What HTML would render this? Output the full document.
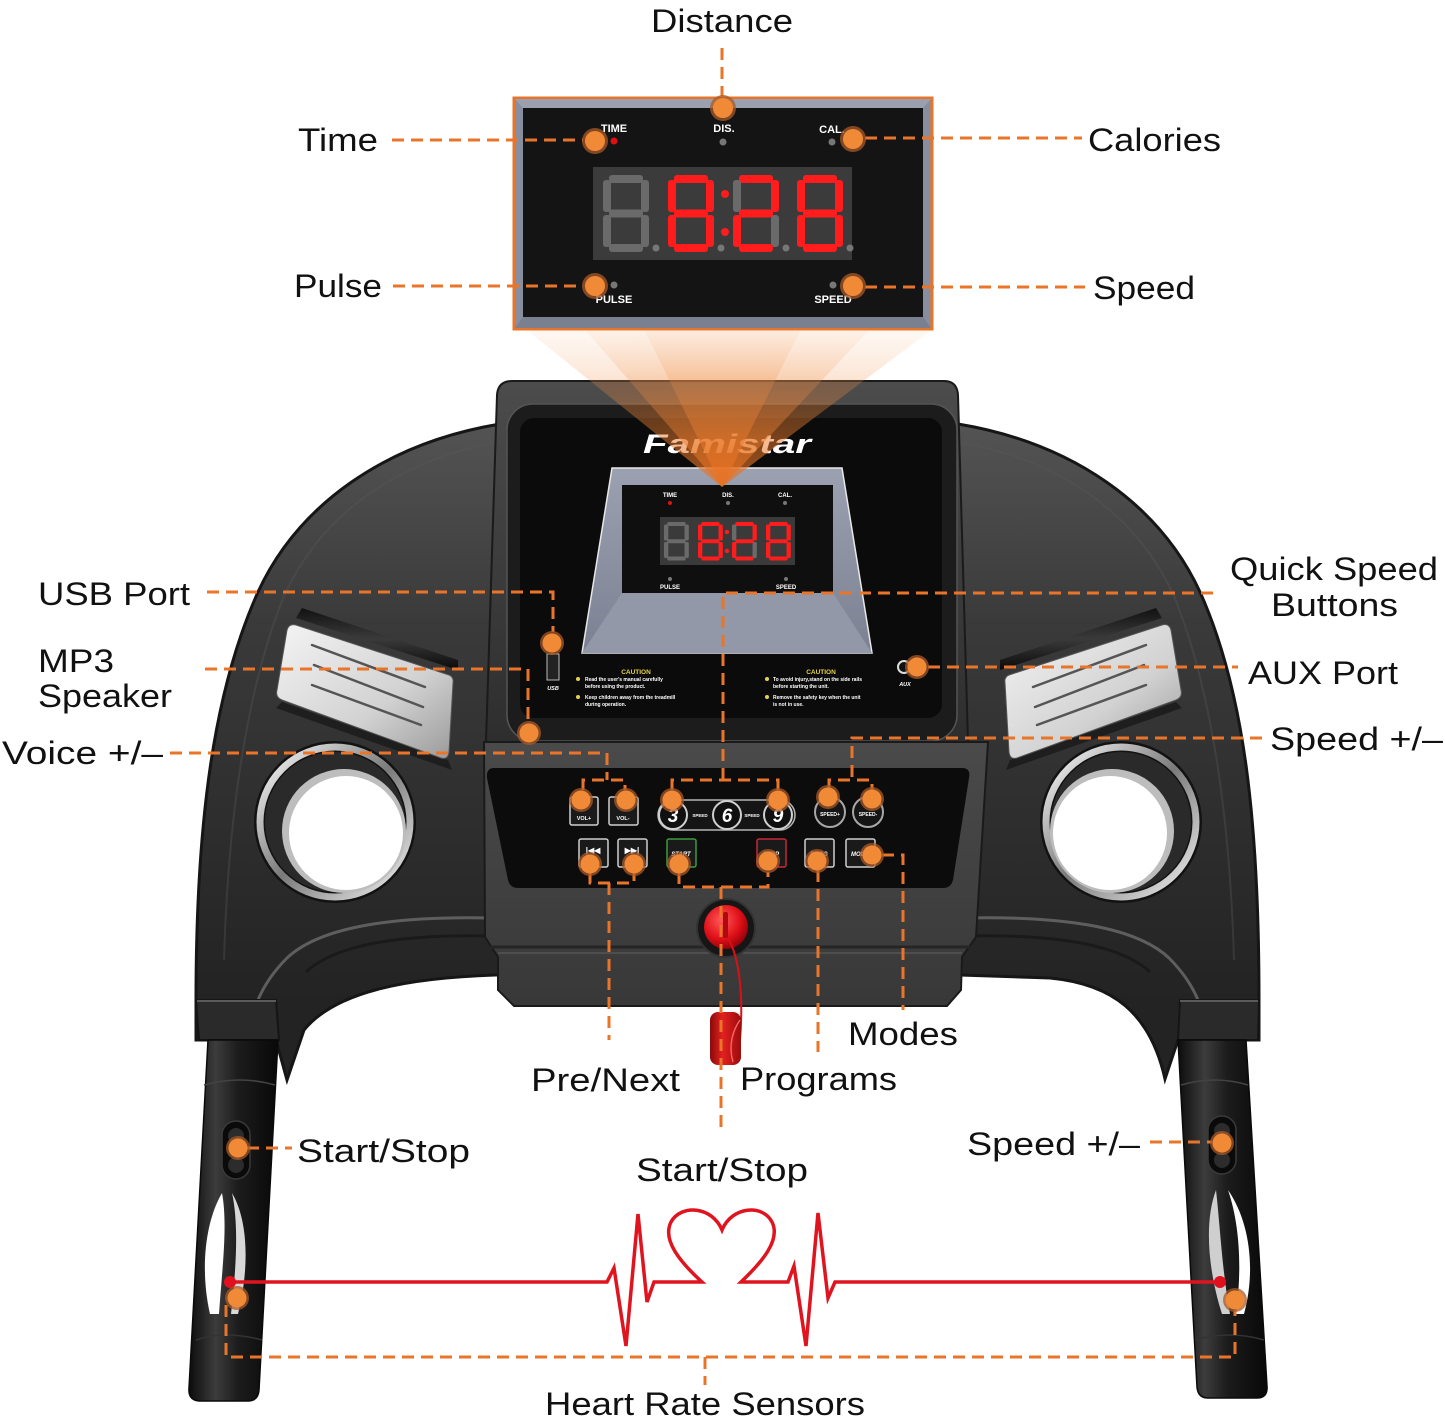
<!DOCTYPE html>
<html><head><meta charset="utf-8">
<style>
html,body{margin:0;padding:0;background:#fff}
svg{display:block}
text{font-family:"Liberation Sans",Arial,sans-serif}
.lbl{font-size:32px;fill:#111}
.d{fill:none;stroke:#e9752a;stroke-width:3;stroke-dasharray:12 7}
.on{fill:#ff1c1c}.off{fill:#6a6a6a}
.oh{fill:#a85a28;fill-opacity:.75}.oc{fill:#f18a36}
.wt{fill:#fff;font-weight:bold}
</style></head><body>
<svg width="1445" height="1420" viewBox="0 0 1445 1420" xmlns="http://www.w3.org/2000/svg">
<defs>
<linearGradient id="wg" x1="0" y1="420" x2="0" y2="1000" gradientUnits="userSpaceOnUse"><stop offset="0" stop-color="#545454"/><stop offset="0.35" stop-color="#3a3a3a"/><stop offset="1" stop-color="#232323"/></linearGradient>
<linearGradient id="ug" x1="0" y1="380" x2="0" y2="740" gradientUnits="userSpaceOnUse"><stop offset="0" stop-color="#4c4c4c"/><stop offset="1" stop-color="#2e2e2e"/></linearGradient>
<linearGradient id="bgr" x1="0" y1="742" x2="0" y2="1006" gradientUnits="userSpaceOnUse"><stop offset="0" stop-color="#4a4a4a"/><stop offset="1" stop-color="#383838"/></linearGradient>
<linearGradient id="hg" x1="0" y1="0" x2="1" y2="0"><stop offset="0" stop-color="#0c0c0c"/><stop offset="0.3" stop-color="#3c3c3c"/><stop offset="0.55" stop-color="#1c1c1c"/><stop offset="1" stop-color="#080808"/></linearGradient>
<linearGradient id="pg" x1="0" y1="0" x2="1" y2="1"><stop offset="0" stop-color="#f4f4f4"/><stop offset="0.6" stop-color="#d2d2d2"/><stop offset="1" stop-color="#9a9a9a"/></linearGradient>
<linearGradient id="sg" x1="0" y1="0" x2="0" y2="1"><stop offset="0" stop-color="#111"/><stop offset="0.5" stop-color="#3a3a3a"/><stop offset="1" stop-color="#0a0a0a"/></linearGradient>
<linearGradient id="cr" x1="0" y1="0" x2="1" y2="1"><stop offset="0" stop-color="#ffffff"/><stop offset="0.5" stop-color="#7a7a7a"/><stop offset="1" stop-color="#f4f4f4"/></linearGradient>
<linearGradient id="b1" x1="0" y1="331" x2="0" y2="487" gradientUnits="userSpaceOnUse"><stop offset="0" stop-color="#f4a66c" stop-opacity="0.08"/><stop offset="0.25" stop-color="#f0934e" stop-opacity="0.2"/><stop offset="0.7" stop-color="#ea7a2c" stop-opacity="0.5"/><stop offset="1" stop-color="#e8701e" stop-opacity="0.7"/></linearGradient>
<radialGradient id="rk" cx="0.4" cy="0.35" r="0.7"><stop offset="0" stop-color="#ff5a5a"/><stop offset="0.6" stop-color="#e01018"/><stop offset="1" stop-color="#8a0008"/></radialGradient>
<linearGradient id="clip" x1="0" y1="0" x2="1" y2="0"><stop offset="0" stop-color="#8a0a0a"/><stop offset="0.4" stop-color="#e42020"/><stop offset="1" stop-color="#9a0c0c"/></linearGradient>
<linearGradient id="scr" x1="0" y1="0" x2="0" y2="1"><stop offset="0" stop-color="#9ba1b0"/><stop offset="1" stop-color="#7b8192"/></linearGradient>
</defs>

<!-- ===== WINGS ===== -->
<path d="M 276,1040 L 196,1040 L 196,1000 C 196,820 214,690 258,592 C 298,505 385,443 500,424 L 958,424 C 1073,443 1160,505 1200,592 C 1244,690 1259,820 1259,1000 L 1259,1040 L 1178,1040 L 1165,1079 C 1150,1012 1112,984 1050,978 L 960,975 L 495,975 C 405,978 335,992 304,1030 L 287,1080 Z" fill="url(#wg)" stroke="#161616" stroke-width="3"/>
<path d="M 498,442 C 400,460 322,512 284,596 C 246,690 228,820 224,960" fill="none" stroke="#5a5a5a" stroke-opacity="0.35" stroke-width="2"/>
<path d="M 960,442 C 1058,460 1136,512 1174,596 C 1212,690 1230,820 1234,960" fill="none" stroke="#5a5a5a" stroke-opacity="0.35" stroke-width="2"/>
<!-- ledges -->
<path d="M 492,918 C 400,916 322,925 287,958 C 272,973 263,988 258,1000" fill="none" stroke="#5e5e5e" stroke-width="3"/>
<path d="M 492,936 C 404,934 336,944 306,972" fill="none" stroke="#1a1a1a" stroke-width="3"/>
<path d="M 964,918 C 1056,916 1134,925 1169,958 C 1184,973 1193,988 1198,1000" fill="none" stroke="#5e5e5e" stroke-width="3"/>
<path d="M 964,936 C 1052,934 1120,944 1150,972" fill="none" stroke="#1a1a1a" stroke-width="3"/>

<!-- collars -->
<polygon points="196,1000 276,1000 279,1040 199,1040" fill="#2a2a2a" stroke="#151515" stroke-width="2"/>
<line x1="197" y1="1001" x2="276" y2="1001" stroke="#5a5a5a" stroke-width="2"/>
<polygon points="1180,1000 1259,1000 1258,1040 1178,1040" fill="#2a2a2a" stroke="#151515" stroke-width="2"/>
<line x1="1180" y1="1001" x2="1258" y2="1001" stroke="#5a5a5a" stroke-width="2"/>

<!-- speaker plates -->
<polygon points="302,608 458,660 458,670 296,618" fill="url(#sg)"/>
<polygon points="282,702 448,760 452,770 276,708" fill="#151515" opacity="0.7"/>
<path d="M 296,625 L 449,675 Q 454,677 453,683 L 449,752 Q 448,760 441,758 L 282,700 Q 275,697 277,690 L 287,630 Q 289,623 296,625 Z" fill="url(#pg)" stroke="#555" stroke-width="1"/>
<line x1="312" y1="645" x2="425" y2="687" stroke="#555" stroke-width="2.5" stroke-linecap="round"/>
<line x1="314" y1="665" x2="423" y2="707" stroke="#555" stroke-width="2.5" stroke-linecap="round"/>
<line x1="312" y1="685" x2="421" y2="725" stroke="#555" stroke-width="2.5" stroke-linecap="round"/>
<polygon points="1156,608 1000,660 1000,670 1162,618" fill="url(#sg)"/>
<polygon points="1176,702 1010,760 1006,770 1182,708" fill="#151515" opacity="0.7"/>
<path d="M 1162,625 L 1009,675 Q 1004,677 1005,683 L 1009,752 Q 1010,760 1017,758 L 1176,700 Q 1183,697 1181,690 L 1171,630 Q 1169,623 1162,625 Z" fill="url(#pg)" stroke="#555" stroke-width="1"/>
<line x1="1146" y1="645" x2="1033" y2="687" stroke="#555" stroke-width="2.5" stroke-linecap="round"/>
<line x1="1144" y1="665" x2="1035" y2="707" stroke="#555" stroke-width="2.5" stroke-linecap="round"/>
<line x1="1146" y1="685" x2="1037" y2="725" stroke="#555" stroke-width="2.5" stroke-linecap="round"/>

<!-- cup holders -->
<circle cx="335" cy="822" r="81" fill="#121212"/>
<circle cx="335" cy="822" r="75" fill="none" stroke="url(#cr)" stroke-width="7"/>
<circle cx="335" cy="822" r="70" fill="#2a2a2a"/>
<circle cx="344" cy="831" r="62" fill="#bdbdbd"/>
<circle cx="346" cy="833" r="57" fill="#fff"/>
<circle cx="1121" cy="822" r="81" fill="#121212"/>
<circle cx="1121" cy="822" r="75" fill="none" stroke="url(#cr)" stroke-width="7"/>
<circle cx="1121" cy="822" r="70" fill="#2a2a2a"/>
<circle cx="1112" cy="831" r="62" fill="#bdbdbd"/>
<circle cx="1110" cy="833" r="57" fill="#fff"/>

<!-- ===== CONSOLE UPRIGHT ===== -->
<path d="M 512,381 L 944,381 Q 957,381 958,395 L 968,742 L 486,742 L 497,395 Q 498,381 512,381 Z" fill="url(#ug)" stroke="#1a1a1a" stroke-width="2"/>
<rect x="507" y="404" width="450" height="337" rx="26" fill="#1c1c1c" stroke="#555" stroke-width="1.5"/>
<rect x="520" y="418" width="422" height="300" rx="14" fill="#0b0b0b"/>

<!-- lower body -->
<path d="M 484,742 L 988,742 L 976,937 L 962,957 L 961,990 L 947,1006 L 514,1006 L 498,990 L 498,957 L 485,937 Z" fill="url(#bgr)" stroke="#1a1a1a" stroke-width="2"/>
<line x1="488" y1="947" x2="970" y2="947" stroke="#252525" stroke-width="3"/>
<line x1="498" y1="953" x2="962" y2="953" stroke="#555" stroke-width="1.5"/>
<path d="M 494,768 L 962,768 Q 971,768 969,778 L 953,880 Q 951,888 943,888 L 518,888 Q 510,888 508,880 L 487,778 Q 486,768 494,768 Z" fill="#0c0c0c"/>

<!-- Famistar logo -->
<text x="727" y="453" text-anchor="middle" font-size="27" font-weight="bold" font-style="italic" fill="#fff" textLength="168" lengthAdjust="spacingAndGlyphs">Famistar</text>

<!-- console display -->
<polygon points="612,468 842,468 872,653 582,653" fill="url(#scr)" stroke="#e8e8e8" stroke-width="1.5"/>
<polygon points="622,593 833,593 872,653 582,653" fill="#9298a8"/>
<rect x="622" y="485" width="211" height="108" fill="#0f0f0f"/>
<rect x="660" y="517" width="135" height="48" fill="#3a3a3a"/>
<g font-size="6" text-anchor="middle">
<text x="670" y="497" class="wt">TIME</text><text x="728" y="497" class="wt">DIS.</text><text x="785" y="497" class="wt">CAL.</text>
<text x="670" y="589" class="wt">PULSE</text><text x="786" y="589" class="wt">SPEED</text>
</g>
<circle cx="670" cy="503" r="2" fill="#e01010"/><circle cx="728" cy="503" r="2" fill="#777"/><circle cx="785" cy="503" r="2" fill="#777"/>
<circle cx="670" cy="579" r="2" fill="#777"/><circle cx="786" cy="579" r="2" fill="#777"/>
<!-- small digits -->
<g transform="translate(664,522) scale(0.54,0.5)">
<rect class="off" x="6" y="0" width="34" height="8" rx="3"/><rect class="off" x="38" y="5" width="8" height="32" rx="3"/><rect class="off" x="38" y="40" width="8" height="32" rx="3"/><rect class="off" x="6" y="69" width="34" height="8" rx="3"/><rect class="off" x="0" y="40" width="8" height="32" rx="3"/><rect class="off" x="0" y="5" width="8" height="32" rx="3"/><rect class="off" x="6" y="34.5" width="34" height="8" rx="3"/>
</g>
<g transform="translate(698,522) scale(0.54,0.5)">
<rect class="on" x="6" y="0" width="34" height="8" rx="3"/><rect class="on" x="38" y="5" width="8" height="32" rx="3"/><rect class="on" x="38" y="40" width="8" height="32" rx="3"/><rect class="on" x="6" y="69" width="34" height="8" rx="3"/><rect class="on" x="0" y="40" width="8" height="32" rx="3"/><rect class="on" x="0" y="5" width="8" height="32" rx="3"/><rect class="on" x="6" y="34.5" width="34" height="8" rx="3"/>
</g>
<g transform="translate(732,522) scale(0.54,0.5)">
<rect class="on" x="6" y="0" width="34" height="8" rx="3"/><rect class="on" x="38" y="5" width="8" height="32" rx="3"/><rect class="off" x="38" y="40" width="8" height="32" rx="3"/><rect class="on" x="6" y="69" width="34" height="8" rx="3"/><rect class="on" x="0" y="40" width="8" height="32" rx="3"/><rect class="off" x="0" y="5" width="8" height="32" rx="3"/><rect class="on" x="6" y="34.5" width="34" height="8" rx="3"/>
</g>
<g transform="translate(766,522) scale(0.54,0.5)">
<rect class="on" x="6" y="0" width="34" height="8" rx="3"/><rect class="on" x="38" y="5" width="8" height="32" rx="3"/><rect class="on" x="38" y="40" width="8" height="32" rx="3"/><rect class="on" x="6" y="69" width="34" height="8" rx="3"/><rect class="on" x="0" y="40" width="8" height="32" rx="3"/><rect class="on" x="0" y="5" width="8" height="32" rx="3"/><rect class="on" x="6" y="34.5" width="34" height="8" rx="3"/>
</g>
<circle cx="727" cy="532" r="2.2" fill="#ff1c1c"/><circle cx="727" cy="551" r="2.2" fill="#ff1c1c"/>

<!-- USB / caution / AUX -->
<rect x="547" y="654" width="12" height="26" fill="#222" stroke="#bbb" stroke-width="1"/>
<text x="553" y="690" font-size="5.5" font-weight="bold" font-style="italic" fill="#fff" text-anchor="middle">USB</text>
<g fill="#fff" font-size="5" font-weight="bold">
<text x="636" y="674" fill="#e6d24a" font-size="6.5" text-anchor="middle">CAUTION</text>
<text x="585" y="681">Read the user's manual carefully</text>
<text x="585" y="688">before using the product.</text>
<text x="585" y="699">Keep children away from the treadmill</text>
<text x="585" y="706">during operation.</text>
<text x="821" y="674" fill="#e6d24a" font-size="6.5" text-anchor="middle">CAUTION</text>
<text x="773" y="681">To avoid injury,stand on the side rails</text>
<text x="773" y="688">before starting the unit.</text>
<text x="773" y="699">Remove the safety key when the unit</text>
<text x="773" y="706">is not in use.</text>
</g>
<circle cx="578" cy="679" r="2" fill="#e6d24a"/><circle cx="578" cy="697" r="2" fill="#e6d24a"/>
<circle cx="767" cy="679" r="2" fill="#e6d24a"/><circle cx="767" cy="697" r="2" fill="#e6d24a"/>
<circle cx="904" cy="667" r="6" fill="#111" stroke="#ddd" stroke-width="2"/>
<text x="905" y="686" font-size="5.5" font-weight="bold" font-style="italic" fill="#fff" text-anchor="middle">AUX</text>

<!-- buttons -->
<g fill="#1a1a1a" stroke="#cfcfcf" stroke-width="1.5">
<rect x="570" y="797" width="28" height="28" rx="2"/>
<rect x="609" y="797" width="29" height="28" rx="2"/>
<rect x="579" y="839" width="29" height="28" rx="2"/>
<rect x="618" y="839" width="29" height="28" rx="2"/>
<rect x="667" y="839" width="29" height="28" rx="2" stroke="#3c9a3c"/>
<rect x="757" y="839" width="29" height="28" rx="2" stroke="#c8283a"/>
<rect x="805" y="839" width="29" height="28" rx="2"/>
<rect x="846" y="839" width="29" height="28" rx="2"/>
<rect x="658" y="800" width="137" height="30" rx="15" fill="#151515" stroke="#b5b5b5"/>
<circle cx="673" cy="815" r="14" fill="#101010" stroke="#d0d0d0" stroke-width="2"/>
<circle cx="727" cy="815" r="14" fill="#101010" stroke="#d0d0d0" stroke-width="2"/>
<circle cx="778" cy="815" r="14" fill="#101010" stroke="#d0d0d0" stroke-width="2"/>
<circle cx="830" cy="812" r="15" fill="#151515" stroke="#a8a8a8" stroke-width="2"/>
<circle cx="868" cy="812" r="15" fill="#151515" stroke="#a8a8a8" stroke-width="2"/>
</g>
<g fill="#fff" font-weight="bold" text-anchor="middle">
<text x="673" y="822" font-size="19" font-style="italic">3</text>
<text x="727" y="822" font-size="19" font-style="italic">6</text>
<text x="778" y="822" font-size="19" font-style="italic">9</text>
<text x="700" y="817" font-size="4.5">SPEED</text>
<text x="752" y="817" font-size="4.5">SPEED</text>
<text x="584" y="820" font-size="5.5">VOL+</text>
<text x="623" y="820" font-size="5.5">VOL-</text>
<text x="830" y="816" font-size="5">SPEED+</text>
<text x="868" y="816" font-size="5">SPEED-</text>
<text x="593" y="853" font-size="8">|◀◀</text>
<text x="632" y="853" font-size="8">▶▶|</text>
<text x="681" y="856" font-size="6" font-style="italic">START</text>
<text x="771" y="856" font-size="6" font-style="italic">STOP</text>
<text x="819" y="856" font-size="6" font-style="italic">PROG</text>
<text x="858" y="856" font-size="6" font-style="italic">MOD</text>
</g>

<!-- safety key -->
<circle cx="726" cy="928" r="29" fill="#161616" stroke="#333" stroke-width="2"/>
<circle cx="726" cy="927" r="22" fill="url(#rk)"/>
<rect x="723" y="912" width="5" height="26" rx="2" fill="#b00810"/>
<path d="M 728,938 C 738,955 744,990 740,1040" fill="none" stroke="#d81018" stroke-width="2"/>
<rect x="710" y="1012" width="31" height="53" rx="8" fill="url(#clip)"/>
<path d="M 740,1020 C 733,1030 728,1045 733,1062" fill="none" stroke="#ff6060" stroke-width="1.5"/>

<!-- ===== HANDLES ===== -->
<path d="M 208,1040 L 278,1040 L 259,1390 Q 258,1401 248,1401 L 199,1401 Q 188,1400 189,1388 Z" fill="url(#hg)" stroke="#0a0a0a" stroke-width="1.5"/>
<path d="M 1178,1040 L 1246,1040 L 1267,1386 Q 1268,1398 1257,1398 L 1208,1398 Q 1198,1398 1197,1387 Z" fill="url(#hg)" stroke="#0a0a0a" stroke-width="1.5"/>
<path d="M 204,1085 Q 240,1075 275,1085" fill="none" stroke="#444" stroke-width="1.5"/>
<path d="M 1181,1085 Q 1215,1075 1248,1085" fill="none" stroke="#444" stroke-width="1.5"/>
<path d="M 196,1340 Q 225,1330 262,1340" fill="none" stroke="#333" stroke-width="1.5"/>
<path d="M 1195,1340 Q 1230,1330 1264,1340" fill="none" stroke="#333" stroke-width="1.5"/>
<!-- slots -->
<rect x="222" y="1121" width="28" height="58" rx="14" fill="#0a0a0a" stroke="#3a3a3a" stroke-width="1.5"/>
<circle cx="236" cy="1136" r="8" fill="#2c2c2c"/><circle cx="236" cy="1165" r="8" fill="#2c2c2c"/>
<rect x="1208" y="1116" width="28" height="58" rx="14" fill="#0a0a0a" stroke="#3a3a3a" stroke-width="1.5"/>
<circle cx="1222" cy="1131" r="8" fill="#2c2c2c"/><circle cx="1222" cy="1160" r="8" fill="#2c2c2c"/>
<!-- chrome sensors -->
<path d="M 222,1193 C 205,1222 200,1270 210,1314 L 219,1314 C 222,1270 228,1225 222,1193 Z" fill="#fff"/>
<path d="M 232,1193 C 249,1222 249,1270 238,1314 L 231,1314 C 236,1270 239,1225 232,1193 Z" fill="#d8d8d8"/>
<path d="M 1216,1190 C 1204,1222 1208,1270 1222,1314 L 1230,1314 C 1222,1270 1220,1225 1216,1190 Z" fill="#cfcfcf"/>
<path d="M 1228,1190 C 1250,1222 1256,1270 1244,1314 L 1236,1314 C 1242,1270 1240,1225 1228,1190 Z" fill="#fff"/>

<!-- ===== TOP DISPLAY ===== -->
<rect x="514" y="98" width="418" height="231" fill="#888e9d" stroke="#e8742a" stroke-width="3"/>
<polygon points="515,99 931,99 923,108 523,108" fill="#9aa0ae"/>
<polygon points="515,328 931,328 923,317 523,317" fill="#7a8090"/>
<rect x="523" y="108" width="400" height="209" fill="#141414"/>
<rect x="593" y="167" width="259" height="93" fill="#3b3b3b"/>
<g transform="translate(603,175)">
<rect class="off" x="6" y="0" width="34" height="8" rx="3"/><rect class="off" x="38" y="5" width="8" height="32" rx="3"/><rect class="off" x="38" y="40" width="8" height="32" rx="3"/><rect class="off" x="6" y="69" width="34" height="8" rx="3"/><rect class="off" x="0" y="40" width="8" height="32" rx="3"/><rect class="off" x="0" y="5" width="8" height="32" rx="3"/><rect class="off" x="6" y="34.5" width="34" height="8" rx="3"/><circle cx="53" cy="73" r="3.5" fill="#777"/>
</g>
<g transform="translate(668,175)">
<rect class="on" x="6" y="0" width="34" height="8" rx="3"/><rect class="on" x="38" y="5" width="8" height="32" rx="3"/><rect class="on" x="38" y="40" width="8" height="32" rx="3"/><rect class="on" x="6" y="69" width="34" height="8" rx="3"/><rect class="on" x="0" y="40" width="8" height="32" rx="3"/><rect class="on" x="0" y="5" width="8" height="32" rx="3"/><rect class="on" x="6" y="34.5" width="34" height="8" rx="3"/><circle cx="53" cy="73" r="3.5" fill="#777"/>
</g>
<g transform="translate(733,175)">
<rect class="on" x="6" y="0" width="34" height="8" rx="3"/><rect class="on" x="38" y="5" width="8" height="32" rx="3"/><rect class="off" x="38" y="40" width="8" height="32" rx="3"/><rect class="on" x="6" y="69" width="34" height="8" rx="3"/><rect class="on" x="0" y="40" width="8" height="32" rx="3"/><rect class="off" x="0" y="5" width="8" height="32" rx="3"/><rect class="on" x="6" y="34.5" width="34" height="8" rx="3"/><circle cx="53" cy="73" r="3.5" fill="#777"/>
</g>
<g transform="translate(797,175)">
<rect class="on" x="6" y="0" width="34" height="8" rx="3"/><rect class="on" x="38" y="5" width="8" height="32" rx="3"/><rect class="on" x="38" y="40" width="8" height="32" rx="3"/><rect class="on" x="6" y="69" width="34" height="8" rx="3"/><rect class="on" x="0" y="40" width="8" height="32" rx="3"/><rect class="on" x="0" y="5" width="8" height="32" rx="3"/><rect class="on" x="6" y="34.5" width="34" height="8" rx="3"/><circle cx="53" cy="73" r="3.5" fill="#777"/>
</g>
<circle cx="725" cy="194" r="4" fill="#ff1c1c"/><circle cx="725" cy="232" r="4" fill="#ff1c1c"/>
<g font-size="11" text-anchor="middle">
<text x="614" y="132" class="wt">TIME</text>
<text x="724" y="132" class="wt">DIS.</text>
<text x="832" y="133" class="wt">CAL.</text>
<text x="614" y="303" class="wt">PULSE</text>
<text x="833" y="303" class="wt">SPEED</text>
</g>
<circle cx="614" cy="141" r="3.5" fill="#e01010"/>
<circle cx="723" cy="142" r="3.5" fill="#777"/>
<circle cx="832" cy="142" r="3.5" fill="#777"/>
<circle cx="614" cy="285" r="3.5" fill="#777"/>
<circle cx="833" cy="285" r="3.5" fill="#777"/>

<!-- ===== LIGHT BEAM ===== -->
<polygon points="528,331 930,331 722,487" fill="url(#b1)"/>
<polygon points="586,331 868,331 722,487" fill="url(#b1)"/>
<polygon points="645,331 800,331 722,487" fill="url(#b1)"/>

<!-- ===== ECG ===== -->
<path d="M 230,1282 L 607,1282 L 614,1268 L 626,1346 L 638,1214 L 647,1302 L 654,1282 L 702,1282 C 680,1262 662,1240 671,1222 C 681,1204 712,1206 722,1230 C 732,1206 763,1204 772,1222 C 781,1240 762,1262 741,1282 L 788,1282 L 794,1266 L 806,1346 L 818,1213 L 828,1298 L 835,1282 L 1220,1282" fill="none" stroke="#e0141e" stroke-width="3.5" stroke-linejoin="miter"/>
<circle cx="230" cy="1282" r="6" fill="#e0101e"/>
<circle cx="1220" cy="1282" r="6" fill="#e0101e"/>

<!-- ===== DASHED CONNECTORS ===== -->
<path class="d" d="M 722,48 L 722,96"/>
<path class="d" d="M 392,140 L 583,140"/>
<path class="d" d="M 865,138 L 1082,138"/>
<path class="d" d="M 393,286 L 583,286"/>
<path class="d" d="M 865,287 L 1085,287"/>
<path class="d" d="M 207,592 L 553,592 L 553,632"/>
<path class="d" d="M 205,669 L 528,669 L 528,722"/>
<path class="d" d="M 170,753 L 607,753 L 607,780"/>
<path class="d" d="M 583,790 L 583,780 L 625,780 L 625,790"/>
<path class="d" d="M 1213,593 L 723,593 L 723,780"/>
<path class="d" d="M 672,790 L 672,780 L 778,780 L 778,790"/>
<path class="d" d="M 928,667 L 1238,667"/>
<path class="d" d="M 1262,738 L 852,738 L 852,780"/>
<path class="d" d="M 829,790 L 829,780 L 872,780 L 872,790"/>
<path class="d" d="M 590,872 L 590,883 L 634,883 L 634,872"/>
<path class="d" d="M 609,883 L 609,1040"/>
<path class="d" d="M 679,872 L 679,887 L 768,887 L 768,872"/>
<path class="d" d="M 721,887 L 721,1132"/>
<path class="d" d="M 818,870 L 818,1052"/>
<path class="d" d="M 882,855 L 903,855 L 903,1010"/>
<path class="d" d="M 247,1148 L 292,1148"/>
<path class="d" d="M 1150,1142 L 1212,1142"/>
<path class="d" d="M 226,1305 L 226,1357 L 1235,1357 L 1235,1310"/>
<path class="d" d="M 705,1357 L 705,1385"/>

<!-- ===== ORANGE DOTS ===== -->
<g>
<circle class="oh" cx="595" cy="141" r="13"/><circle class="oc" cx="595" cy="141" r="10"/>
<circle class="oh" cx="723" cy="108" r="13"/><circle class="oc" cx="723" cy="108" r="10"/>
<circle class="oh" cx="853" cy="139" r="13"/><circle class="oc" cx="853" cy="139" r="10"/>
<circle class="oh" cx="595" cy="286" r="13"/><circle class="oc" cx="595" cy="286" r="10"/>
<circle class="oh" cx="853" cy="286" r="13"/><circle class="oc" cx="853" cy="286" r="10"/>
<circle class="oh" cx="552" cy="643" r="12"/><circle class="oc" cx="552" cy="643" r="9.5"/>
<circle class="oh" cx="529" cy="733" r="12"/><circle class="oc" cx="529" cy="733" r="9.5"/>
<circle class="oh" cx="917" cy="667" r="12"/><circle class="oc" cx="917" cy="667" r="9.5"/>
<circle class="oh" cx="581" cy="800" r="12"/><circle class="oc" cx="581" cy="800" r="9.5"/>
<circle class="oh" cx="626" cy="800" r="12"/><circle class="oc" cx="626" cy="800" r="9.5"/>
<circle class="oh" cx="672" cy="800" r="12"/><circle class="oc" cx="672" cy="800" r="9.5"/>
<circle class="oh" cx="778" cy="800" r="12"/><circle class="oc" cx="778" cy="800" r="9.5"/>
<circle class="oh" cx="828" cy="797" r="12"/><circle class="oc" cx="828" cy="797" r="9.5"/>
<circle class="oh" cx="872" cy="799" r="12"/><circle class="oc" cx="872" cy="799" r="9.5"/>
<circle class="oh" cx="590" cy="864" r="12"/><circle class="oc" cx="590" cy="864" r="9.5"/>
<circle class="oh" cx="634" cy="864" r="12"/><circle class="oc" cx="634" cy="864" r="9.5"/>
<circle class="oh" cx="679" cy="864" r="12"/><circle class="oc" cx="679" cy="864" r="9.5"/>
<circle class="oh" cx="768" cy="861" r="12"/><circle class="oc" cx="768" cy="861" r="9.5"/>
<circle class="oh" cx="817" cy="861" r="12"/><circle class="oc" cx="817" cy="861" r="9.5"/>
<circle class="oh" cx="872" cy="855" r="12"/><circle class="oc" cx="872" cy="855" r="9.5"/>
<circle class="oh" cx="238" cy="1148" r="12"/><circle class="oc" cx="238" cy="1148" r="9.5"/>
<circle class="oh" cx="1222" cy="1143" r="12"/><circle class="oc" cx="1222" cy="1143" r="9.5"/>
<circle class="oh" cx="237" cy="1298" r="12"/><circle class="oc" cx="237" cy="1298" r="9.5"/>
<circle class="oh" cx="1235" cy="1300" r="12"/><circle class="oc" cx="1235" cy="1300" r="9.5"/>
</g>

<!-- ===== LABELS ===== -->
<text class="lbl" x="651" y="32" textLength="142" lengthAdjust="spacingAndGlyphs">Distance</text>
<text class="lbl" x="298" y="151" textLength="80" lengthAdjust="spacingAndGlyphs">Time</text>
<text class="lbl" x="1088" y="151" textLength="133" lengthAdjust="spacingAndGlyphs">Calories</text>
<text class="lbl" x="294" y="297" textLength="88" lengthAdjust="spacingAndGlyphs">Pulse</text>
<text class="lbl" x="1093" y="299" textLength="102" lengthAdjust="spacingAndGlyphs">Speed</text>
<text class="lbl" x="38" y="605" textLength="152" lengthAdjust="spacingAndGlyphs">USB Port</text>
<text class="lbl" x="38" y="672" textLength="76" lengthAdjust="spacingAndGlyphs">MP3</text>
<text class="lbl" x="38" y="707" textLength="134" lengthAdjust="spacingAndGlyphs">Speaker</text>
<text class="lbl" x="2" y="764" textLength="161" lengthAdjust="spacingAndGlyphs">Voice +/–</text>
<text class="lbl" x="1230" y="580" textLength="208" lengthAdjust="spacingAndGlyphs">Quick Speed</text>
<text class="lbl" x="1271" y="616" textLength="127" lengthAdjust="spacingAndGlyphs">Buttons</text>
<text class="lbl" x="1248" y="684" textLength="150" lengthAdjust="spacingAndGlyphs">AUX Port</text>
<text class="lbl" x="1270" y="750" textLength="173" lengthAdjust="spacingAndGlyphs">Speed +/–</text>
<text class="lbl" x="848" y="1045" textLength="110" lengthAdjust="spacingAndGlyphs">Modes</text>
<text class="lbl" x="531" y="1091" textLength="149" lengthAdjust="spacingAndGlyphs">Pre/Next</text>
<text class="lbl" x="740" y="1090" textLength="157" lengthAdjust="spacingAndGlyphs">Programs</text>
<text class="lbl" x="297" y="1162" textLength="173" lengthAdjust="spacingAndGlyphs">Start/Stop</text>
<text class="lbl" x="967" y="1155" textLength="173" lengthAdjust="spacingAndGlyphs">Speed +/–</text>
<text class="lbl" x="636" y="1181" textLength="172" lengthAdjust="spacingAndGlyphs">Start/Stop</text>
<text class="lbl" x="545" y="1415" textLength="320" lengthAdjust="spacingAndGlyphs">Heart Rate Sensors</text>
</svg>
</body></html>
